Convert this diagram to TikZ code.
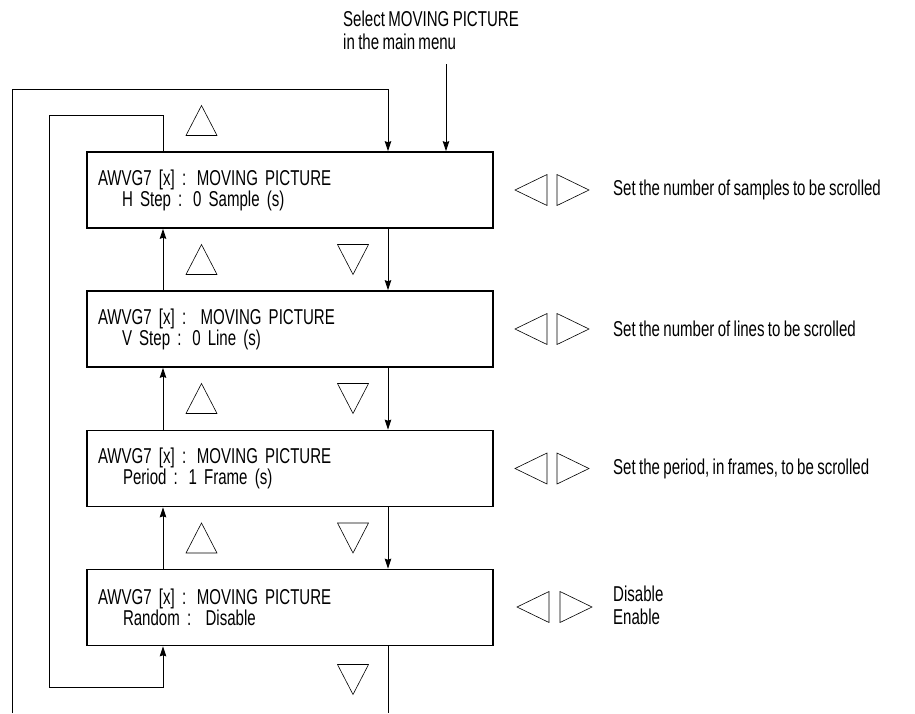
\documentclass[tikz,border=0pt]{standalone}
\usepackage{fontspec}
\setmainfont{Liberation Sans}[FakeStretch=0.7, WordSpace=0.8]
\usetikzlibrary{arrows.meta}
\begin{document}
\begin{tikzpicture}[x=1pt,y=-1pt,
  menubox/.style={draw, line width=1.6pt, minimum width=406pt, minimum height=76pt,
    text width=384pt, align=left, inner sep=0pt, font=\fontsize{21.5}{21}\selectfont},
  lbl/.style={inner sep=0pt, font=\fontsize{21.5}{23}\selectfont},
  conn/.style={line width=0.9pt},
  arr/.style={-{Stealth[length=10pt,width=6.5pt,inset=1pt]}},
  tri/.style={line width=0.6pt, line join=miter},
  tup/.pic={\draw[tri] (-15.5,15) -- (0,-15) -- (15.5,15) -- cycle;},
  tdown/.pic={\draw[tri] (-15.5,-15) -- (0,15) -- (15.5,-15) -- cycle;},
  tleft/.pic={\draw[tri] (16,-15.5) -- (-16,0) -- (16,15.5) -- cycle;},
  tright/.pic={\draw[tri] (-16,-15.5) -- (16,0) -- (-16,15.5) -- cycle;}
]
\useasboundingbox (0,0) rectangle (915,713);

% top label
\node[lbl, anchor=base west] (s1) at (343,26) {Select MOVING PICTURE};
\node[lbl, anchor=base west] (s2) at (343,49) {in the main menu};

% menu boxes
\node[menubox] (b1) at (290,190) {AWVG7 [x] : MOVING PICTURE\\\hspace*{24pt}H Step : 0 Sample (s)};
\node[menubox] (b2) at (290,329) {AWVG7 [x] :\ \ MOVING PICTURE\\\hspace*{24pt}V Step : 0 Line (s)};
\node[menubox] (b3) at (290,468.5) {AWVG7 [x] : MOVING PICTURE\\\hspace*{25pt}Period : 1 Frame (s)};
\node[menubox] (b4) at (290,607.5) {AWVG7 [x] : MOVING PICTURE\\\hspace*{25pt}Random :\ \ Disable};

% coordinates
\coordinate (mm) at (446,64);
\coordinate (o1) at (12,713);
\coordinate (o2) at (12,89);
\coordinate (o3) at (388,89);
\coordinate (d4) at (388,713);
\coordinate (i1) at (163,115);
\coordinate (i2) at (49,115);
\coordinate (i3) at (49,687);
\coordinate (i4) at (163,687);

% connectors
\draw[conn,arr] (mm) -- (mm |- b1.north);
\draw[conn,arr] (o1) -- (o2) -- (o3) -- (o3 |- b1.north);
\draw[conn,arr] (b1.north -| i1) -- (i1) -- (i2) -- (i3) -- (i4) -- (i4 |- b4.south);
\draw[conn] (b4.south -| d4) -- (d4);

\draw[conn,arr] (b2.north -| i1) -- (b1.south -| i1);
\draw[conn,arr] (b3.north -| i1) -- (b2.south -| i1);
\draw[conn,arr] (b4.north -| i1) -- (b3.south -| i1);

\draw[conn,arr] (b1.south -| o3) -- (b2.north -| o3);
\draw[conn,arr] (b2.south -| o3) -- (b3.north -| o3);
\draw[conn,arr] (b3.south -| o3) -- (b4.north -| o3);

% up / down keys
\pic at (201.5,120.5) {tup};
\pic at (201.5,259.5) {tup};
\pic at (353,259.5) {tdown};
\pic at (201.5,398.5) {tup};
\pic at (353,398.5) {tdown};
\pic at (201.5,538) {tup};
\pic at (353,538) {tdown};
\pic at (353,679.5) {tdown};

% left / right keys
\pic at (531,190) {tleft};
\pic at (573,190) {tright};
\pic at (531,329) {tleft};
\pic at (573,329) {tright};
\pic at (531,468.5) {tleft};
\pic at (573,468.5) {tright};
\pic at (533,607) {tleft};
\pic at (576,607) {tright};

% right labels
\node[lbl, anchor=west] (r1) at (613,190) {Set the number of samples to be scrolled};
\node[lbl, anchor=west] (r2) at (613,329) {Set the number of lines to be scrolled};
\node[lbl, anchor=west] (r3) at (613,468.5) {Set the period, in frames, to be scrolled};
\node[lbl, anchor=base west] (r4) at (613,601) {Disable};
\node[lbl, anchor=base west] (r5) at (613,624) {Enable};
\end{tikzpicture}
\end{document}
